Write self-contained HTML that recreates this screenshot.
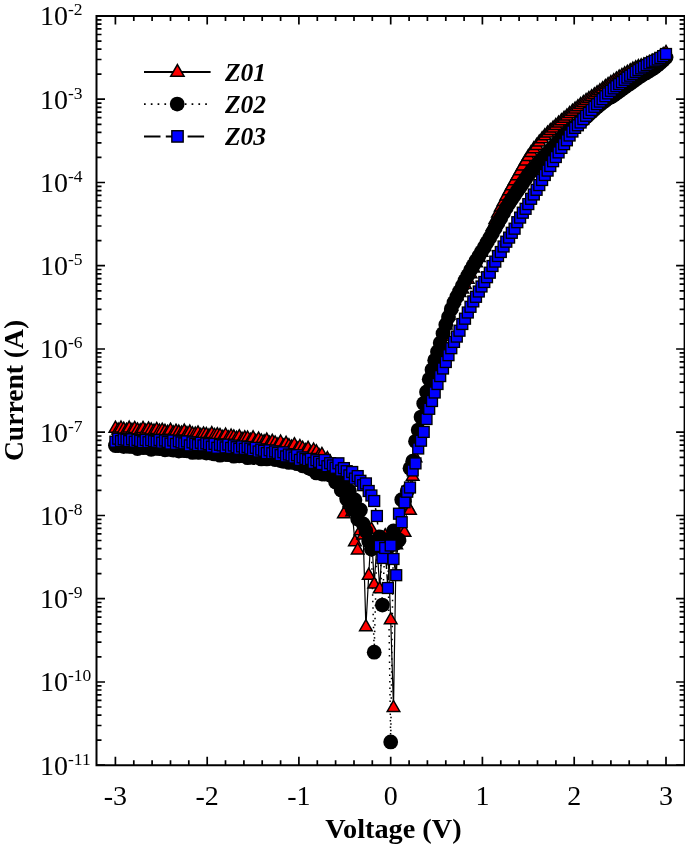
<!DOCTYPE html>
<html lang="en"><head><meta charset="utf-8"><title>I-V characteristics</title>
<style>html,body{margin:0;padding:0;background:#fff}svg{display:block}text{font-family:"Liberation Serif","DejaVu Serif",serif;fill:#000}</style></head><body>
<svg width="685" height="847" viewBox="0 0 685 847">
<rect width="685" height="847" fill="#fff"/>
<path d="M115.4 765.2v-8.5M115.4 16v8.5M133.8 765.2v-5M133.8 16v5M152.1 765.2v-5M152.1 16v5M170.5 765.2v-5M170.5 16v5M188.8 765.2v-5M188.8 16v5M207.2 765.2v-8.5M207.2 16v8.5M225.5 765.2v-5M225.5 16v5M243.9 765.2v-5M243.9 16v5M262.2 765.2v-5M262.2 16v5M280.6 765.2v-5M280.6 16v5M298.9 765.2v-8.5M298.9 16v8.5M317.3 765.2v-5M317.3 16v5M335.6 765.2v-5M335.6 16v5M354 765.2v-5M354 16v5M372.3 765.2v-5M372.3 16v5M390.7 765.2v-8.5M390.7 16v8.5M409.1 765.2v-5M409.1 16v5M427.4 765.2v-5M427.4 16v5M445.8 765.2v-5M445.8 16v5M464.1 765.2v-5M464.1 16v5M482.4 765.2v-8.5M482.4 16v8.5M500.8 765.2v-5M500.8 16v5M519.1 765.2v-5M519.1 16v5M537.5 765.2v-5M537.5 16v5M555.9 765.2v-5M555.9 16v5M574.2 765.2v-8.5M574.2 16v8.5M592.5 765.2v-5M592.5 16v5M610.9 765.2v-5M610.9 16v5M629.2 765.2v-5M629.2 16v5M647.6 765.2v-5M647.6 16v5M666 765.2v-8.5M666 16v8.5M96.5 765.2h8.5M684.6 765.2h-8.5M96.5 740.1h5M684.6 740.1h-5M96.5 725.5h5M684.6 725.5h-5M96.5 715.1h5M684.6 715.1h-5M96.5 707h5M684.6 707h-5M96.5 700.4h5M684.6 700.4h-5M96.5 694.9h5M684.6 694.9h-5M96.5 690h5M684.6 690h-5M96.5 685.8h5M684.6 685.8h-5M96.5 682h8.5M684.6 682h-8.5M96.5 656.9h5M684.6 656.9h-5M96.5 642.2h5M684.6 642.2h-5M96.5 631.8h5M684.6 631.8h-5M96.5 623.8h5M684.6 623.8h-5M96.5 617.2h5M684.6 617.2h-5M96.5 611.6h5M684.6 611.6h-5M96.5 606.8h5M684.6 606.8h-5M96.5 602.5h5M684.6 602.5h-5M96.5 598.7h8.5M684.6 598.7h-8.5M96.5 573.7h5M684.6 573.7h-5M96.5 559h5M684.6 559h-5M96.5 548.6h5M684.6 548.6h-5M96.5 540.5h5M684.6 540.5h-5M96.5 533.9h5M684.6 533.9h-5M96.5 528.4h5M684.6 528.4h-5M96.5 523.5h5M684.6 523.5h-5M96.5 519.3h5M684.6 519.3h-5M96.5 515.5h8.5M684.6 515.5h-8.5M96.5 490.4h5M684.6 490.4h-5M96.5 475.7h5M684.6 475.7h-5M96.5 465.3h5M684.6 465.3h-5M96.5 457.3h5M684.6 457.3h-5M96.5 450.7h5M684.6 450.7h-5M96.5 445.1h5M684.6 445.1h-5M96.5 440.3h5M684.6 440.3h-5M96.5 436h5M684.6 436h-5M96.5 432.2h8.5M684.6 432.2h-8.5M96.5 407.2h5M684.6 407.2h-5M96.5 392.5h5M684.6 392.5h-5M96.5 382.1h5M684.6 382.1h-5M96.5 374h5M684.6 374h-5M96.5 367.4h5M684.6 367.4h-5M96.5 361.9h5M684.6 361.9h-5M96.5 357h5M684.6 357h-5M96.5 352.8h5M684.6 352.8h-5M96.5 349h8.5M684.6 349h-8.5M96.5 323.9h5M684.6 323.9h-5M96.5 309.3h5M684.6 309.3h-5M96.5 298.9h5M684.6 298.9h-5M96.5 290.8h5M684.6 290.8h-5M96.5 284.2h5M684.6 284.2h-5M96.5 278.6h5M684.6 278.6h-5M96.5 273.8h5M684.6 273.8h-5M96.5 269.5h5M684.6 269.5h-5M96.5 265.7h8.5M684.6 265.7h-8.5M96.5 240.7h5M684.6 240.7h-5M96.5 226h5M684.6 226h-5M96.5 215.6h5M684.6 215.6h-5M96.5 207.5h5M684.6 207.5h-5M96.5 201h5M684.6 201h-5M96.5 195.4h5M684.6 195.4h-5M96.5 190.6h5M684.6 190.6h-5M96.5 186.3h5M684.6 186.3h-5M96.5 182.5h8.5M684.6 182.5h-8.5M96.5 157.4h5M684.6 157.4h-5M96.5 142.8h5M684.6 142.8h-5M96.5 132.4h5M684.6 132.4h-5M96.5 124.3h5M684.6 124.3h-5M96.5 117.7h5M684.6 117.7h-5M96.5 112.1h5M684.6 112.1h-5M96.5 107.3h5M684.6 107.3h-5M96.5 103.1h5M684.6 103.1h-5M96.5 99.2h8.5M684.6 99.2h-8.5M96.5 74.2h5M684.6 74.2h-5M96.5 59.5h5M684.6 59.5h-5M96.5 49.1h5M684.6 49.1h-5M96.5 41.1h5M684.6 41.1h-5M96.5 34.5h5M684.6 34.5h-5M96.5 28.9h5M684.6 28.9h-5M96.5 24.1h5M684.6 24.1h-5M96.5 19.8h5M684.6 19.8h-5M96.5 16h8.5M684.6 16h-8.5" stroke="#000" stroke-width="1.7" fill="none"/>
<defs>
<path id="t" d="M0 -7.3L6.3 3.7L-6.3 3.7Z" fill="#f00" stroke="#000" stroke-width="1.5" stroke-linejoin="miter"/>
<circle id="c" r="7.4" fill="#000"/>
<rect id="s" x="-5.45" y="-5.45" width="10.9" height="10.9" fill="#00f" stroke="#000" stroke-width="1.35"/>
</defs>
<g fill="none" stroke="#000">
<polyline points="115.4,428.5 118.2,430.3 121,428.3 123.7,429.5 126.5,430.5 129.2,428.4 132,430.6 134.7,428.7 137.5,430.2 140.2,431 143,428.7 145.7,431.2 148.5,429.2 151.2,430.2 154,431.4 156.7,429.7 159.5,431.3 162.2,430.5 165,431.6 167.7,432.6 170.5,430.5 173.3,433.1 176,431.5 178.8,432.4 181.5,433.3 184.3,431.4 187,433.9 189.8,432.4 192.5,434.1 195.3,434.3 198,433.2 200.8,435.6 203.5,434.2 206.3,434.7 209,436.1 211.8,433.9 214.5,435.7 217.3,435 220,435.7 222.8,437.6 225.6,435.3 228.3,438 231.1,436.3 233.8,437.2 236.6,438.5 239.3,437 242.1,439.6 244.8,438.1 247.6,438.3 250.3,440.5 253.1,438.1 255.8,441.7 258.6,439.3 261.3,441.2 264.1,442 266.8,440.4 269.6,443.4 272.3,441.6 275.1,443.2 277.8,445.2 280.6,442.3 283.4,446.4 286.1,443.6 288.9,446 291.6,447.3 294.4,445 297.1,449.2 299.9,446.8 302.6,448.5 305.4,450.8 308.1,448.6 310.9,453.2 313.6,450.3 316.4,452.1 319.1,455.9 321.9,454.7 324.6,461.9 327.4,458.9 330.1,462.2 332.9,467.1 335.6,466.3 338.4,482.2 341.2,483.2 343.9,514 346.7,494 349.4,503 352.2,512 354.9,542 357.7,550.2 360.4,531 363.2,535.4 365.9,627 368.7,575.5 371.4,529.5 374.2,584.4 376.9,544 379.7,589.1 382.4,541 385.2,536 387.9,546 390.7,620 393.5,707.8 396.2,545 399,537 401.7,531 404.5,532.5 407.2,506 410,510.6 412.7,476.5 415.5,458.1 418.2,440.7 421,428.9 423.7,413.3 426.5,400.7 429.2,388.2 432,376.6 434.7,367 437.5,356.9 440.2,347.1 443,336.5 445.8,325.3 448.5,315.2 451.3,306.6 454,300.4 456.8,296.1 459.5,292.9 462.3,289.3 465,284.7 467.8,279.5 470.5,274 473.3,268.4 476,263 478.8,257.9 481.5,252.6 484.3,246.8 487,240.3 489.8,233.5 492.5,226.7 495.3,219.9 498,213.4 500.8,207.4 503.6,201.7 506.3,196.3 509.1,191.1 511.8,186.1 514.6,181 517.3,176 520.1,171.1 522.8,166.3 525.6,161.4 528.3,156.9 531.1,152.8 533.8,149.1 536.6,145.7 539.3,142.3 542.1,139 544.8,136.1 547.6,133.4 550.3,130.8 553.1,128.3 555.8,125.8 558.6,123.4 561.4,121 564.1,118.6 566.9,116.2 569.6,113.9 572.4,111.5 575.1,109.3 577.9,107 580.6,104.9 583.4,102.8 586.1,100.8 588.9,98.9 591.6,97 594.4,95.1 597.1,93.1 599.9,91.1 602.6,89 605.4,86.9 608.1,84.9 610.9,82.9 613.7,81 616.4,79.2 619.2,77.4 621.9,75.7 624.7,74.1 627.4,72.6 630.2,71 632.9,69.4 635.7,68 638.4,66.9 641.2,66.1 643.9,65.2 646.7,64.1 649.4,62.9 652.2,61.6 654.9,60.2 657.7,58.7 660.4,56.9 663.2,54.9 666,52.7" stroke-width="1.2"/>
<polyline points="115.4,445.5 118.2,445.5 121,444.8 123.7,446.6 126.5,445.2 129.2,446.4 132,446.3 134.7,445.8 137.5,448.5 140.2,446.2 143,447.6 145.7,447.4 148.5,446.2 151.2,449.3 154,446.9 156.7,448.4 159.5,448.6 162.2,448.4 165,449.8 167.7,447.2 170.5,449.4 173.3,450 176,448.8 178.8,451.1 181.5,448.2 184.3,450.7 187,450.8 189.8,449.3 192.5,452.4 195.3,449.5 198,452.3 200.8,452.2 203.5,450.8 206.3,453.1 209,451.1 211.8,453.2 214.5,453.9 217.3,452.4 220,455.2 222.8,452.7 225.6,454.4 228.3,454.7 231.1,453.1 233.8,456.2 236.6,453.8 239.3,455.8 242.1,455.6 244.8,454.3 247.6,457.7 250.3,454.9 253.1,457.6 255.8,456.3 258.6,455.2 261.3,458.9 264.1,456.3 266.8,458.9 269.6,458.3 272.3,457.1 275.1,459.5 277.8,457.5 280.6,460.5 283.4,461.3 286.1,458.4 288.9,462.4 291.6,460.4 294.4,462.5 297.1,463.7 299.9,460.5 302.6,465.8 305.4,463.4 308.1,467.4 310.9,469.1 313.6,467.1 316.4,472.9 319.1,468.4 321.9,474.1 324.6,474 327.4,471.7 330.1,475 332.9,472 335.6,482 338.4,477 341.2,490 343.9,482 346.7,499 349.4,491 352.2,509 354.9,500 357.7,519 360.4,510 363.2,524 365.9,531 368.7,541 371.4,549 374.2,652.2 376.9,545 379.7,537 382.4,605.1 385.2,540 387.9,548 390.7,741.9 393.5,531 396.2,543 399,540 401.7,499.7 404.5,501.4 407.2,490.9 410,468.3 412.7,461.2 415.5,441.3 418.2,430.1 421,417.1 423.7,403.5 426.5,391.9 429.2,379.3 432,369.7 434.7,360.3 437.5,351.8 440.2,343 443,333.5 445.8,324.7 448.5,316.9 451.3,309.1 454,302.6 456.8,296.8 459.5,291.4 462.3,286 465,280.6 467.8,275.4 470.5,270.3 473.3,265.4 476,260.7 478.8,256.2 481.5,251.8 484.3,247.2 487,242.5 489.8,237.7 492.5,232.9 495.3,228 498,223.1 500.8,217.9 503.6,212.8 506.3,207.8 509.1,203.2 511.8,199 514.6,195 517.3,191 520.1,187 522.8,183 525.6,178.7 528.3,174.8 531.1,171.4 533.8,168.2 536.6,165.2 539.3,162.1 542.1,159.1 544.8,156.1 547.6,153.2 550.3,150.2 553.1,147.3 555.8,144.2 558.6,141.2 561.4,138.3 564.1,135.6 566.9,133.1 569.6,130.8 572.4,128.7 575.1,126.5 577.9,124.3 580.6,122 583.4,119.5 586.1,117 588.9,114.4 591.6,111.9 594.4,109.4 597.1,107 599.9,104.7 602.6,102.5 605.4,100.5 608.1,98.6 610.9,96.9 613.7,95.2 616.4,93.3 619.2,91.3 621.9,89.3 624.7,87.3 627.4,85.3 630.2,83.4 632.9,81.5 635.7,79.5 638.4,77.5 641.2,75.7 643.9,74.1 646.7,72.4 649.4,70.7 652.2,69 654.9,67.2 657.7,65.1 660.4,62.8 663.2,60.3 666,57.6" stroke-width="1.5" stroke-dasharray="1.5 5"/>
<polyline points="115.4,441.7 118.2,438.7 121,441 123.7,439.3 126.5,439.7 129.2,441.1 132,439.3 134.7,441.7 137.5,439.9 140.2,440.9 143,442.2 145.7,440 148.5,442.2 151.2,440.2 154,441.2 156.7,441.7 159.5,440 162.2,442.6 165,440.5 167.7,442 170.5,443.6 173.3,440.5 176,443.9 178.8,441.3 181.5,442.4 184.3,443.4 187,441.4 189.8,445.4 192.5,442.4 195.3,443.8 198,445.1 200.8,442.8 203.5,445.4 206.3,443.4 209,444.2 211.8,446.6 214.5,443.9 217.3,447.8 220,444.8 222.8,445.4 225.6,447.4 228.3,444.6 231.1,447.9 233.8,445.5 236.6,447.2 239.3,448.8 242.1,446.4 244.8,448.8 247.6,447 250.3,448.6 253.1,450.2 255.8,447.8 258.6,451.5 261.3,449.6 264.1,450.8 266.8,453.1 269.6,450.3 272.3,453.2 275.1,451.5 277.8,453 280.6,455.1 283.4,452.3 286.1,456.4 288.9,454.5 291.6,455.4 294.4,457.5 297.1,455.2 299.9,459.9 302.6,457.4 305.4,459 308.1,460.2 310.9,458.9 313.6,462.9 316.4,460.2 319.1,461.9 321.9,464 324.6,460 327.4,466.2 330.1,463.2 332.9,465.4 335.6,467.8 338.4,463.3 341.2,470.5 343.9,468.1 346.7,471.2 349.4,475.4 352.2,472 354.9,478.6 357.7,476.1 360.4,480.8 363.2,485.2 365.9,483.4 368.7,491 371.4,495.5 374.2,501 376.9,516 379.7,546 382.4,558 385.2,548 387.9,588 390.7,545.5 393.5,559 396.2,575.2 399,513.7 401.7,522.2 404.5,502.3 407.2,491.7 410,487.5 412.7,470.5 415.5,463.4 418.2,448.5 421,440.7 423.7,431.9 426.5,419 429.2,408.8 432,401 434.7,392.5 437.5,384 440.2,376.1 443,368.5 445.8,362 448.5,355.2 451.3,348.2 454,341.9 456.8,336.6 459.5,330.7 462.3,324 465,318.7 467.8,312.5 470.5,306.8 473.3,301.4 476,296.8 478.8,291.5 481.5,286.5 484.3,282 487,277.2 489.8,272.7 492.5,266 495.3,261.6 498,256 500.8,252 503.6,246.5 506.3,241.7 509.1,237.6 511.8,232.8 514.6,228.7 517.3,222.2 520.1,217.6 522.8,212.7 525.6,208.8 528.3,204.1 531.1,198.8 533.8,194.5 536.6,189.8 539.3,185.1 542.1,180 544.8,175 547.6,170.6 550.3,166 553.1,161.2 555.8,157 558.6,152.4 561.4,147.9 564.1,144.2 566.9,140.3 569.6,135.5 572.4,131.5 575.1,127.9 577.9,125.3 580.6,122.5 583.4,119.1 586.1,115.8 588.9,112.9 591.6,110 594.4,106.8 597.1,104.2 599.9,101.6 602.6,99.1 605.4,96.2 608.1,93.4 610.9,90.8 613.7,88.4 616.4,86.2 619.2,84.1 621.9,82.1 624.7,79.8 627.4,77.6 630.2,75.7 632.9,73.9 635.7,71.9 638.4,70.1 641.2,68.4 643.9,66.7 646.7,65.1 649.4,63.4 652.2,62 654.9,60.8 657.7,59.5 660.4,57.9 663.2,56.1 666,54" stroke-width="1.5" stroke-dasharray="16.5 5.3"/>
</g>
<g><use href="#t" x="115.4" y="428.5"/><use href="#t" x="118.2" y="430.3"/><use href="#t" x="121" y="428.3"/><use href="#t" x="123.7" y="429.5"/><use href="#t" x="126.5" y="430.5"/><use href="#t" x="129.2" y="428.4"/><use href="#t" x="132" y="430.6"/><use href="#t" x="134.7" y="428.7"/><use href="#t" x="137.5" y="430.2"/><use href="#t" x="140.2" y="431"/><use href="#t" x="143" y="428.7"/><use href="#t" x="145.7" y="431.2"/><use href="#t" x="148.5" y="429.2"/><use href="#t" x="151.2" y="430.2"/><use href="#t" x="154" y="431.4"/><use href="#t" x="156.7" y="429.7"/><use href="#t" x="159.5" y="431.3"/><use href="#t" x="162.2" y="430.5"/><use href="#t" x="165" y="431.6"/><use href="#t" x="167.7" y="432.6"/><use href="#t" x="170.5" y="430.5"/><use href="#t" x="173.3" y="433.1"/><use href="#t" x="176" y="431.5"/><use href="#t" x="178.8" y="432.4"/><use href="#t" x="181.5" y="433.3"/><use href="#t" x="184.3" y="431.4"/><use href="#t" x="187" y="433.9"/><use href="#t" x="189.8" y="432.4"/><use href="#t" x="192.5" y="434.1"/><use href="#t" x="195.3" y="434.3"/><use href="#t" x="198" y="433.2"/><use href="#t" x="200.8" y="435.6"/><use href="#t" x="203.5" y="434.2"/><use href="#t" x="206.3" y="434.7"/><use href="#t" x="209" y="436.1"/><use href="#t" x="211.8" y="433.9"/><use href="#t" x="214.5" y="435.7"/><use href="#t" x="217.3" y="435"/><use href="#t" x="220" y="435.7"/><use href="#t" x="222.8" y="437.6"/><use href="#t" x="225.6" y="435.3"/><use href="#t" x="228.3" y="438"/><use href="#t" x="231.1" y="436.3"/><use href="#t" x="233.8" y="437.2"/><use href="#t" x="236.6" y="438.5"/><use href="#t" x="239.3" y="437"/><use href="#t" x="242.1" y="439.6"/><use href="#t" x="244.8" y="438.1"/><use href="#t" x="247.6" y="438.3"/><use href="#t" x="250.3" y="440.5"/><use href="#t" x="253.1" y="438.1"/><use href="#t" x="255.8" y="441.7"/><use href="#t" x="258.6" y="439.3"/><use href="#t" x="261.3" y="441.2"/><use href="#t" x="264.1" y="442"/><use href="#t" x="266.8" y="440.4"/><use href="#t" x="269.6" y="443.4"/><use href="#t" x="272.3" y="441.6"/><use href="#t" x="275.1" y="443.2"/><use href="#t" x="277.8" y="445.2"/><use href="#t" x="280.6" y="442.3"/><use href="#t" x="283.4" y="446.4"/><use href="#t" x="286.1" y="443.6"/><use href="#t" x="288.9" y="446"/><use href="#t" x="291.6" y="447.3"/><use href="#t" x="294.4" y="445"/><use href="#t" x="297.1" y="449.2"/><use href="#t" x="299.9" y="446.8"/><use href="#t" x="302.6" y="448.5"/><use href="#t" x="305.4" y="450.8"/><use href="#t" x="308.1" y="448.6"/><use href="#t" x="310.9" y="453.2"/><use href="#t" x="313.6" y="450.3"/><use href="#t" x="316.4" y="452.1"/><use href="#t" x="319.1" y="455.9"/><use href="#t" x="321.9" y="454.7"/><use href="#t" x="324.6" y="461.9"/><use href="#t" x="327.4" y="458.9"/><use href="#t" x="330.1" y="462.2"/><use href="#t" x="332.9" y="467.1"/><use href="#t" x="335.6" y="466.3"/><use href="#t" x="338.4" y="482.2"/><use href="#t" x="341.2" y="483.2"/><use href="#t" x="343.9" y="514"/><use href="#t" x="346.7" y="494"/><use href="#t" x="349.4" y="503"/><use href="#t" x="352.2" y="512"/><use href="#t" x="354.9" y="542"/><use href="#t" x="357.7" y="550.2"/><use href="#t" x="360.4" y="531"/><use href="#t" x="363.2" y="535.4"/><use href="#t" x="365.9" y="627"/><use href="#t" x="368.7" y="575.5"/><use href="#t" x="371.4" y="529.5"/><use href="#t" x="374.2" y="584.4"/><use href="#t" x="376.9" y="544"/><use href="#t" x="379.7" y="589.1"/><use href="#t" x="382.4" y="541"/><use href="#t" x="385.2" y="536"/><use href="#t" x="387.9" y="546"/><use href="#t" x="390.7" y="620"/><use href="#t" x="393.5" y="707.8"/><use href="#t" x="396.2" y="545"/><use href="#t" x="399" y="537"/><use href="#t" x="401.7" y="531"/><use href="#t" x="404.5" y="532.5"/><use href="#t" x="407.2" y="506"/><use href="#t" x="410" y="510.6"/><use href="#t" x="412.7" y="476.5"/><use href="#t" x="415.5" y="458.1"/><use href="#t" x="418.2" y="440.7"/><use href="#t" x="421" y="428.9"/><use href="#t" x="423.7" y="413.3"/><use href="#t" x="426.5" y="400.7"/><use href="#t" x="429.2" y="388.2"/><use href="#t" x="432" y="376.6"/><use href="#t" x="434.7" y="367"/><use href="#t" x="437.5" y="356.9"/><use href="#t" x="440.2" y="347.1"/><use href="#t" x="443" y="336.5"/><use href="#t" x="445.8" y="325.3"/><use href="#t" x="448.5" y="315.2"/><use href="#t" x="451.3" y="306.6"/><use href="#t" x="454" y="300.4"/><use href="#t" x="456.8" y="296.1"/><use href="#t" x="459.5" y="292.9"/><use href="#t" x="462.3" y="289.3"/><use href="#t" x="465" y="284.7"/><use href="#t" x="467.8" y="279.5"/><use href="#t" x="470.5" y="274"/><use href="#t" x="473.3" y="268.4"/><use href="#t" x="476" y="263"/><use href="#t" x="478.8" y="257.9"/><use href="#t" x="481.5" y="252.6"/><use href="#t" x="484.3" y="246.8"/><use href="#t" x="487" y="240.3"/><use href="#t" x="489.8" y="233.5"/><use href="#t" x="492.5" y="226.7"/><use href="#t" x="495.3" y="219.9"/><use href="#t" x="498" y="213.4"/><use href="#t" x="500.8" y="207.4"/><use href="#t" x="503.6" y="201.7"/><use href="#t" x="506.3" y="196.3"/><use href="#t" x="509.1" y="191.1"/><use href="#t" x="511.8" y="186.1"/><use href="#t" x="514.6" y="181"/><use href="#t" x="517.3" y="176"/><use href="#t" x="520.1" y="171.1"/><use href="#t" x="522.8" y="166.3"/><use href="#t" x="525.6" y="161.4"/><use href="#t" x="528.3" y="156.9"/><use href="#t" x="531.1" y="152.8"/><use href="#t" x="533.8" y="149.1"/><use href="#t" x="536.6" y="145.7"/><use href="#t" x="539.3" y="142.3"/><use href="#t" x="542.1" y="139"/><use href="#t" x="544.8" y="136.1"/><use href="#t" x="547.6" y="133.4"/><use href="#t" x="550.3" y="130.8"/><use href="#t" x="553.1" y="128.3"/><use href="#t" x="555.8" y="125.8"/><use href="#t" x="558.6" y="123.4"/><use href="#t" x="561.4" y="121"/><use href="#t" x="564.1" y="118.6"/><use href="#t" x="566.9" y="116.2"/><use href="#t" x="569.6" y="113.9"/><use href="#t" x="572.4" y="111.5"/><use href="#t" x="575.1" y="109.3"/><use href="#t" x="577.9" y="107"/><use href="#t" x="580.6" y="104.9"/><use href="#t" x="583.4" y="102.8"/><use href="#t" x="586.1" y="100.8"/><use href="#t" x="588.9" y="98.9"/><use href="#t" x="591.6" y="97"/><use href="#t" x="594.4" y="95.1"/><use href="#t" x="597.1" y="93.1"/><use href="#t" x="599.9" y="91.1"/><use href="#t" x="602.6" y="89"/><use href="#t" x="605.4" y="86.9"/><use href="#t" x="608.1" y="84.9"/><use href="#t" x="610.9" y="82.9"/><use href="#t" x="613.7" y="81"/><use href="#t" x="616.4" y="79.2"/><use href="#t" x="619.2" y="77.4"/><use href="#t" x="621.9" y="75.7"/><use href="#t" x="624.7" y="74.1"/><use href="#t" x="627.4" y="72.6"/><use href="#t" x="630.2" y="71"/><use href="#t" x="632.9" y="69.4"/><use href="#t" x="635.7" y="68"/><use href="#t" x="638.4" y="66.9"/><use href="#t" x="641.2" y="66.1"/><use href="#t" x="643.9" y="65.2"/><use href="#t" x="646.7" y="64.1"/><use href="#t" x="649.4" y="62.9"/><use href="#t" x="652.2" y="61.6"/><use href="#t" x="654.9" y="60.2"/><use href="#t" x="657.7" y="58.7"/><use href="#t" x="660.4" y="56.9"/><use href="#t" x="663.2" y="54.9"/><use href="#t" x="666" y="52.7"/></g>
<g><use href="#c" x="115.4" y="445.5"/><use href="#c" x="118.2" y="445.5"/><use href="#c" x="121" y="444.8"/><use href="#c" x="123.7" y="446.6"/><use href="#c" x="126.5" y="445.2"/><use href="#c" x="129.2" y="446.4"/><use href="#c" x="132" y="446.3"/><use href="#c" x="134.7" y="445.8"/><use href="#c" x="137.5" y="448.5"/><use href="#c" x="140.2" y="446.2"/><use href="#c" x="143" y="447.6"/><use href="#c" x="145.7" y="447.4"/><use href="#c" x="148.5" y="446.2"/><use href="#c" x="151.2" y="449.3"/><use href="#c" x="154" y="446.9"/><use href="#c" x="156.7" y="448.4"/><use href="#c" x="159.5" y="448.6"/><use href="#c" x="162.2" y="448.4"/><use href="#c" x="165" y="449.8"/><use href="#c" x="167.7" y="447.2"/><use href="#c" x="170.5" y="449.4"/><use href="#c" x="173.3" y="450"/><use href="#c" x="176" y="448.8"/><use href="#c" x="178.8" y="451.1"/><use href="#c" x="181.5" y="448.2"/><use href="#c" x="184.3" y="450.7"/><use href="#c" x="187" y="450.8"/><use href="#c" x="189.8" y="449.3"/><use href="#c" x="192.5" y="452.4"/><use href="#c" x="195.3" y="449.5"/><use href="#c" x="198" y="452.3"/><use href="#c" x="200.8" y="452.2"/><use href="#c" x="203.5" y="450.8"/><use href="#c" x="206.3" y="453.1"/><use href="#c" x="209" y="451.1"/><use href="#c" x="211.8" y="453.2"/><use href="#c" x="214.5" y="453.9"/><use href="#c" x="217.3" y="452.4"/><use href="#c" x="220" y="455.2"/><use href="#c" x="222.8" y="452.7"/><use href="#c" x="225.6" y="454.4"/><use href="#c" x="228.3" y="454.7"/><use href="#c" x="231.1" y="453.1"/><use href="#c" x="233.8" y="456.2"/><use href="#c" x="236.6" y="453.8"/><use href="#c" x="239.3" y="455.8"/><use href="#c" x="242.1" y="455.6"/><use href="#c" x="244.8" y="454.3"/><use href="#c" x="247.6" y="457.7"/><use href="#c" x="250.3" y="454.9"/><use href="#c" x="253.1" y="457.6"/><use href="#c" x="255.8" y="456.3"/><use href="#c" x="258.6" y="455.2"/><use href="#c" x="261.3" y="458.9"/><use href="#c" x="264.1" y="456.3"/><use href="#c" x="266.8" y="458.9"/><use href="#c" x="269.6" y="458.3"/><use href="#c" x="272.3" y="457.1"/><use href="#c" x="275.1" y="459.5"/><use href="#c" x="277.8" y="457.5"/><use href="#c" x="280.6" y="460.5"/><use href="#c" x="283.4" y="461.3"/><use href="#c" x="286.1" y="458.4"/><use href="#c" x="288.9" y="462.4"/><use href="#c" x="291.6" y="460.4"/><use href="#c" x="294.4" y="462.5"/><use href="#c" x="297.1" y="463.7"/><use href="#c" x="299.9" y="460.5"/><use href="#c" x="302.6" y="465.8"/><use href="#c" x="305.4" y="463.4"/><use href="#c" x="308.1" y="467.4"/><use href="#c" x="310.9" y="469.1"/><use href="#c" x="313.6" y="467.1"/><use href="#c" x="316.4" y="472.9"/><use href="#c" x="319.1" y="468.4"/><use href="#c" x="321.9" y="474.1"/><use href="#c" x="324.6" y="474"/><use href="#c" x="327.4" y="471.7"/><use href="#c" x="330.1" y="475"/><use href="#c" x="332.9" y="472"/><use href="#c" x="335.6" y="482"/><use href="#c" x="338.4" y="477"/><use href="#c" x="341.2" y="490"/><use href="#c" x="343.9" y="482"/><use href="#c" x="346.7" y="499"/><use href="#c" x="349.4" y="491"/><use href="#c" x="352.2" y="509"/><use href="#c" x="354.9" y="500"/><use href="#c" x="357.7" y="519"/><use href="#c" x="360.4" y="510"/><use href="#c" x="363.2" y="524"/><use href="#c" x="365.9" y="531"/><use href="#c" x="368.7" y="541"/><use href="#c" x="371.4" y="549"/><use href="#c" x="374.2" y="652.2"/><use href="#c" x="376.9" y="545"/><use href="#c" x="379.7" y="537"/><use href="#c" x="382.4" y="605.1"/><use href="#c" x="385.2" y="540"/><use href="#c" x="387.9" y="548"/><use href="#c" x="390.7" y="741.9"/><use href="#c" x="393.5" y="531"/><use href="#c" x="396.2" y="543"/><use href="#c" x="399" y="540"/><use href="#c" x="401.7" y="499.7"/><use href="#c" x="404.5" y="501.4"/><use href="#c" x="407.2" y="490.9"/><use href="#c" x="410" y="468.3"/><use href="#c" x="412.7" y="461.2"/><use href="#c" x="415.5" y="441.3"/><use href="#c" x="418.2" y="430.1"/><use href="#c" x="421" y="417.1"/><use href="#c" x="423.7" y="403.5"/><use href="#c" x="426.5" y="391.9"/><use href="#c" x="429.2" y="379.3"/><use href="#c" x="432" y="369.7"/><use href="#c" x="434.7" y="360.3"/><use href="#c" x="437.5" y="351.8"/><use href="#c" x="440.2" y="343"/><use href="#c" x="443" y="333.5"/><use href="#c" x="445.8" y="324.7"/><use href="#c" x="448.5" y="316.9"/><use href="#c" x="451.3" y="309.1"/><use href="#c" x="454" y="302.6"/><use href="#c" x="456.8" y="296.8"/><use href="#c" x="459.5" y="291.4"/><use href="#c" x="462.3" y="286"/><use href="#c" x="465" y="280.6"/><use href="#c" x="467.8" y="275.4"/><use href="#c" x="470.5" y="270.3"/><use href="#c" x="473.3" y="265.4"/><use href="#c" x="476" y="260.7"/><use href="#c" x="478.8" y="256.2"/><use href="#c" x="481.5" y="251.8"/><use href="#c" x="484.3" y="247.2"/><use href="#c" x="487" y="242.5"/><use href="#c" x="489.8" y="237.7"/><use href="#c" x="492.5" y="232.9"/><use href="#c" x="495.3" y="228"/><use href="#c" x="498" y="223.1"/><use href="#c" x="500.8" y="217.9"/><use href="#c" x="503.6" y="212.8"/><use href="#c" x="506.3" y="207.8"/><use href="#c" x="509.1" y="203.2"/><use href="#c" x="511.8" y="199"/><use href="#c" x="514.6" y="195"/><use href="#c" x="517.3" y="191"/><use href="#c" x="520.1" y="187"/><use href="#c" x="522.8" y="183"/><use href="#c" x="525.6" y="178.7"/><use href="#c" x="528.3" y="174.8"/><use href="#c" x="531.1" y="171.4"/><use href="#c" x="533.8" y="168.2"/><use href="#c" x="536.6" y="165.2"/><use href="#c" x="539.3" y="162.1"/><use href="#c" x="542.1" y="159.1"/><use href="#c" x="544.8" y="156.1"/><use href="#c" x="547.6" y="153.2"/><use href="#c" x="550.3" y="150.2"/><use href="#c" x="553.1" y="147.3"/><use href="#c" x="555.8" y="144.2"/><use href="#c" x="558.6" y="141.2"/><use href="#c" x="561.4" y="138.3"/><use href="#c" x="564.1" y="135.6"/><use href="#c" x="566.9" y="133.1"/><use href="#c" x="569.6" y="130.8"/><use href="#c" x="572.4" y="128.7"/><use href="#c" x="575.1" y="126.5"/><use href="#c" x="577.9" y="124.3"/><use href="#c" x="580.6" y="122"/><use href="#c" x="583.4" y="119.5"/><use href="#c" x="586.1" y="117"/><use href="#c" x="588.9" y="114.4"/><use href="#c" x="591.6" y="111.9"/><use href="#c" x="594.4" y="109.4"/><use href="#c" x="597.1" y="107"/><use href="#c" x="599.9" y="104.7"/><use href="#c" x="602.6" y="102.5"/><use href="#c" x="605.4" y="100.5"/><use href="#c" x="608.1" y="98.6"/><use href="#c" x="610.9" y="96.9"/><use href="#c" x="613.7" y="95.2"/><use href="#c" x="616.4" y="93.3"/><use href="#c" x="619.2" y="91.3"/><use href="#c" x="621.9" y="89.3"/><use href="#c" x="624.7" y="87.3"/><use href="#c" x="627.4" y="85.3"/><use href="#c" x="630.2" y="83.4"/><use href="#c" x="632.9" y="81.5"/><use href="#c" x="635.7" y="79.5"/><use href="#c" x="638.4" y="77.5"/><use href="#c" x="641.2" y="75.7"/><use href="#c" x="643.9" y="74.1"/><use href="#c" x="646.7" y="72.4"/><use href="#c" x="649.4" y="70.7"/><use href="#c" x="652.2" y="69"/><use href="#c" x="654.9" y="67.2"/><use href="#c" x="657.7" y="65.1"/><use href="#c" x="660.4" y="62.8"/><use href="#c" x="663.2" y="60.3"/><use href="#c" x="666" y="57.6"/></g>
<g><use href="#s" x="115.4" y="441.7"/><use href="#s" x="118.2" y="438.7"/><use href="#s" x="121" y="441"/><use href="#s" x="123.7" y="439.3"/><use href="#s" x="126.5" y="439.7"/><use href="#s" x="129.2" y="441.1"/><use href="#s" x="132" y="439.3"/><use href="#s" x="134.7" y="441.7"/><use href="#s" x="137.5" y="439.9"/><use href="#s" x="140.2" y="440.9"/><use href="#s" x="143" y="442.2"/><use href="#s" x="145.7" y="440"/><use href="#s" x="148.5" y="442.2"/><use href="#s" x="151.2" y="440.2"/><use href="#s" x="154" y="441.2"/><use href="#s" x="156.7" y="441.7"/><use href="#s" x="159.5" y="440"/><use href="#s" x="162.2" y="442.6"/><use href="#s" x="165" y="440.5"/><use href="#s" x="167.7" y="442"/><use href="#s" x="170.5" y="443.6"/><use href="#s" x="173.3" y="440.5"/><use href="#s" x="176" y="443.9"/><use href="#s" x="178.8" y="441.3"/><use href="#s" x="181.5" y="442.4"/><use href="#s" x="184.3" y="443.4"/><use href="#s" x="187" y="441.4"/><use href="#s" x="189.8" y="445.4"/><use href="#s" x="192.5" y="442.4"/><use href="#s" x="195.3" y="443.8"/><use href="#s" x="198" y="445.1"/><use href="#s" x="200.8" y="442.8"/><use href="#s" x="203.5" y="445.4"/><use href="#s" x="206.3" y="443.4"/><use href="#s" x="209" y="444.2"/><use href="#s" x="211.8" y="446.6"/><use href="#s" x="214.5" y="443.9"/><use href="#s" x="217.3" y="447.8"/><use href="#s" x="220" y="444.8"/><use href="#s" x="222.8" y="445.4"/><use href="#s" x="225.6" y="447.4"/><use href="#s" x="228.3" y="444.6"/><use href="#s" x="231.1" y="447.9"/><use href="#s" x="233.8" y="445.5"/><use href="#s" x="236.6" y="447.2"/><use href="#s" x="239.3" y="448.8"/><use href="#s" x="242.1" y="446.4"/><use href="#s" x="244.8" y="448.8"/><use href="#s" x="247.6" y="447"/><use href="#s" x="250.3" y="448.6"/><use href="#s" x="253.1" y="450.2"/><use href="#s" x="255.8" y="447.8"/><use href="#s" x="258.6" y="451.5"/><use href="#s" x="261.3" y="449.6"/><use href="#s" x="264.1" y="450.8"/><use href="#s" x="266.8" y="453.1"/><use href="#s" x="269.6" y="450.3"/><use href="#s" x="272.3" y="453.2"/><use href="#s" x="275.1" y="451.5"/><use href="#s" x="277.8" y="453"/><use href="#s" x="280.6" y="455.1"/><use href="#s" x="283.4" y="452.3"/><use href="#s" x="286.1" y="456.4"/><use href="#s" x="288.9" y="454.5"/><use href="#s" x="291.6" y="455.4"/><use href="#s" x="294.4" y="457.5"/><use href="#s" x="297.1" y="455.2"/><use href="#s" x="299.9" y="459.9"/><use href="#s" x="302.6" y="457.4"/><use href="#s" x="305.4" y="459"/><use href="#s" x="308.1" y="460.2"/><use href="#s" x="310.9" y="458.9"/><use href="#s" x="313.6" y="462.9"/><use href="#s" x="316.4" y="460.2"/><use href="#s" x="319.1" y="461.9"/><use href="#s" x="321.9" y="464"/><use href="#s" x="324.6" y="460"/><use href="#s" x="327.4" y="466.2"/><use href="#s" x="330.1" y="463.2"/><use href="#s" x="332.9" y="465.4"/><use href="#s" x="335.6" y="467.8"/><use href="#s" x="338.4" y="463.3"/><use href="#s" x="341.2" y="470.5"/><use href="#s" x="343.9" y="468.1"/><use href="#s" x="346.7" y="471.2"/><use href="#s" x="349.4" y="475.4"/><use href="#s" x="352.2" y="472"/><use href="#s" x="354.9" y="478.6"/><use href="#s" x="357.7" y="476.1"/><use href="#s" x="360.4" y="480.8"/><use href="#s" x="363.2" y="485.2"/><use href="#s" x="365.9" y="483.4"/><use href="#s" x="368.7" y="491"/><use href="#s" x="371.4" y="495.5"/><use href="#s" x="374.2" y="501"/><use href="#s" x="376.9" y="516"/><use href="#s" x="379.7" y="546"/><use href="#s" x="382.4" y="558"/><use href="#s" x="385.2" y="548"/><use href="#s" x="387.9" y="588"/><use href="#s" x="390.7" y="545.5"/><use href="#s" x="393.5" y="559"/><use href="#s" x="396.2" y="575.2"/><use href="#s" x="399" y="513.7"/><use href="#s" x="401.7" y="522.2"/><use href="#s" x="404.5" y="502.3"/><use href="#s" x="407.2" y="491.7"/><use href="#s" x="410" y="487.5"/><use href="#s" x="412.7" y="470.5"/><use href="#s" x="415.5" y="463.4"/><use href="#s" x="418.2" y="448.5"/><use href="#s" x="421" y="440.7"/><use href="#s" x="423.7" y="431.9"/><use href="#s" x="426.5" y="419"/><use href="#s" x="429.2" y="408.8"/><use href="#s" x="432" y="401"/><use href="#s" x="434.7" y="392.5"/><use href="#s" x="437.5" y="384"/><use href="#s" x="440.2" y="376.1"/><use href="#s" x="443" y="368.5"/><use href="#s" x="445.8" y="362"/><use href="#s" x="448.5" y="355.2"/><use href="#s" x="451.3" y="348.2"/><use href="#s" x="454" y="341.9"/><use href="#s" x="456.8" y="336.6"/><use href="#s" x="459.5" y="330.7"/><use href="#s" x="462.3" y="324"/><use href="#s" x="465" y="318.7"/><use href="#s" x="467.8" y="312.5"/><use href="#s" x="470.5" y="306.8"/><use href="#s" x="473.3" y="301.4"/><use href="#s" x="476" y="296.8"/><use href="#s" x="478.8" y="291.5"/><use href="#s" x="481.5" y="286.5"/><use href="#s" x="484.3" y="282"/><use href="#s" x="487" y="277.2"/><use href="#s" x="489.8" y="272.7"/><use href="#s" x="492.5" y="266"/><use href="#s" x="495.3" y="261.6"/><use href="#s" x="498" y="256"/><use href="#s" x="500.8" y="252"/><use href="#s" x="503.6" y="246.5"/><use href="#s" x="506.3" y="241.7"/><use href="#s" x="509.1" y="237.6"/><use href="#s" x="511.8" y="232.8"/><use href="#s" x="514.6" y="228.7"/><use href="#s" x="517.3" y="222.2"/><use href="#s" x="520.1" y="217.6"/><use href="#s" x="522.8" y="212.7"/><use href="#s" x="525.6" y="208.8"/><use href="#s" x="528.3" y="204.1"/><use href="#s" x="531.1" y="198.8"/><use href="#s" x="533.8" y="194.5"/><use href="#s" x="536.6" y="189.8"/><use href="#s" x="539.3" y="185.1"/><use href="#s" x="542.1" y="180"/><use href="#s" x="544.8" y="175"/><use href="#s" x="547.6" y="170.6"/><use href="#s" x="550.3" y="166"/><use href="#s" x="553.1" y="161.2"/><use href="#s" x="555.8" y="157"/><use href="#s" x="558.6" y="152.4"/><use href="#s" x="561.4" y="147.9"/><use href="#s" x="564.1" y="144.2"/><use href="#s" x="566.9" y="140.3"/><use href="#s" x="569.6" y="135.5"/><use href="#s" x="572.4" y="131.5"/><use href="#s" x="575.1" y="127.9"/><use href="#s" x="577.9" y="125.3"/><use href="#s" x="580.6" y="122.5"/><use href="#s" x="583.4" y="119.1"/><use href="#s" x="586.1" y="115.8"/><use href="#s" x="588.9" y="112.9"/><use href="#s" x="591.6" y="110"/><use href="#s" x="594.4" y="106.8"/><use href="#s" x="597.1" y="104.2"/><use href="#s" x="599.9" y="101.6"/><use href="#s" x="602.6" y="99.1"/><use href="#s" x="605.4" y="96.2"/><use href="#s" x="608.1" y="93.4"/><use href="#s" x="610.9" y="90.8"/><use href="#s" x="613.7" y="88.4"/><use href="#s" x="616.4" y="86.2"/><use href="#s" x="619.2" y="84.1"/><use href="#s" x="621.9" y="82.1"/><use href="#s" x="624.7" y="79.8"/><use href="#s" x="627.4" y="77.6"/><use href="#s" x="630.2" y="75.7"/><use href="#s" x="632.9" y="73.9"/><use href="#s" x="635.7" y="71.9"/><use href="#s" x="638.4" y="70.1"/><use href="#s" x="641.2" y="68.4"/><use href="#s" x="643.9" y="66.7"/><use href="#s" x="646.7" y="65.1"/><use href="#s" x="649.4" y="63.4"/><use href="#s" x="652.2" y="62"/><use href="#s" x="654.9" y="60.8"/><use href="#s" x="657.7" y="59.5"/><use href="#s" x="660.4" y="57.9"/><use href="#s" x="663.2" y="56.1"/><use href="#s" x="666" y="54"/></g>
<path d="M96.5 16H684.6V765.2H96.5Z" fill="none" stroke="#000" stroke-width="2"/>
<g font-size="28">
<text x="115.4" y="805.3" text-anchor="middle">-3</text>
<text x="207.2" y="805.3" text-anchor="middle">-2</text>
<text x="298.9" y="805.3" text-anchor="middle">-1</text>
<text x="390.7" y="805.3" text-anchor="middle">0</text>
<text x="482.4" y="805.3" text-anchor="middle">1</text>
<text x="574.2" y="805.3" text-anchor="middle">2</text>
<text x="666" y="805.3" text-anchor="middle">3</text>
<text x="40" y="774.6">10<tspan font-size="17.5" dy="-10">-11</tspan></text>
<text x="40" y="691.4">10<tspan font-size="17.5" dy="-10">-10</tspan></text>
<text x="40" y="608.1">10<tspan font-size="17.5" dy="-10">-9</tspan></text>
<text x="40" y="524.9">10<tspan font-size="17.5" dy="-10">-8</tspan></text>
<text x="40" y="441.6">10<tspan font-size="17.5" dy="-10">-7</tspan></text>
<text x="40" y="358.4">10<tspan font-size="17.5" dy="-10">-6</tspan></text>
<text x="40" y="275.1">10<tspan font-size="17.5" dy="-10">-5</tspan></text>
<text x="40" y="191.9">10<tspan font-size="17.5" dy="-10">-4</tspan></text>
<text x="40" y="108.6">10<tspan font-size="17.5" dy="-10">-3</tspan></text>
<text x="40" y="25.4">10<tspan font-size="17.5" dy="-10">-2</tspan></text>
</g>
<text x="393.4" y="837.8" font-size="28" font-weight="bold" text-anchor="middle" textLength="136.4" lengthAdjust="spacingAndGlyphs">Voltage (V)</text>
<text transform="translate(23.3 390.5) rotate(-90)" font-size="28" font-weight="bold" text-anchor="middle" textLength="141.2" lengthAdjust="spacingAndGlyphs">Current (A)</text>
<g stroke="#000" stroke-width="2" fill="none">
<path d="M144 72H210.6"/>
<path d="M144 104.1H210.6" stroke-width="1.7" stroke-dasharray="1.7 5.1"/>
<path d="M144 136.4H208" stroke-dasharray="16.5 5.3"/>
</g>
<use href="#t" x="177.4" y="72.3" transform="translate(177.4 72.3) scale(1.05) translate(-177.4 -72.3)"/>
<use href="#c" x="177.2" y="104.1"/>
<use href="#s" x="177.5" y="136.4" transform="translate(177.5 136.4) scale(1.04) translate(-177.5 -136.4)"/>
<g font-size="25.5" font-weight="bold" font-style="italic">
<text x="225" y="81">Z01</text><text x="225" y="113">Z02</text><text x="225" y="145.3">Z03</text>
</g>
</svg></body></html>
